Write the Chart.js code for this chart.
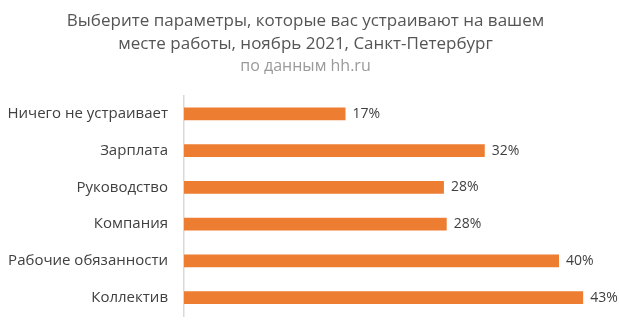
<!DOCTYPE html>
<html>
<head>
<meta charset="utf-8">
<script src="https://cdn.jsdelivr.net/npm/chart.js@4"></script>
<style>
    html, body { margin: 0; padding: 0; background: #fff; }
    #wrap { width: 619px; height: 331px; }
</style>
</head>
<body>
<div id="wrap"><canvas id="chart"></canvas></div>
<script>
const categories = [
    "Ничего не устраивает",
    "Зарплата",
    "Руководство",
    "Компания",
    "Рабочие обязанности",
    "Коллектив"
];
const values = [17.4, 32.4, 28.0, 28.3, 40.4, 43.0];
const valueLabels = ["17%", "32%", "28%", "28%", "40%", "43%"];

const titleLines = [
    "Выберите параметры, которые вас устраивают на вашем",
    "месте работы, ноябрь 2021, Санкт-Петербург"
];
const subtitleText = "по данным hh.ru";

const fontFamily = "'Open Sans', sans-serif";
const textColor = "#404040";

// draws the % labels right after each bar
const valueLabelPlugin = {
    id: "valueLabels",
    afterDatasetsDraw(chart) {
        const ctx = chart.ctx;
        const meta = chart.getDatasetMeta(0);
        ctx.save();
        ctx.font = `14px ${fontFamily}`;
        ctx.fillStyle = textColor;
        ctx.textAlign = "left";
        ctx.textBaseline = "middle";
        meta.data.forEach((bar, i) => {
            ctx.fillText(valueLabels[i], bar.x + 7, bar.y);
        });
        ctx.restore();
    }
};

new Chart(document.getElementById("chart"), {
    type: "bar",
    data: {
        labels: categories,
        datasets: [
            {
                data: values,
                backgroundColor: "#ED7D31",
                borderWidth: 0,
                categoryPercentage: 1,
                barPercentage: 0.345
            }
        ]
    },
    options: {
        indexAxis: "y",
        responsive: true,
        maintainAspectRatio: false,
        animation: false,
        layout: {
            padding: { left: 0, right: 8, top: 0, bottom: 15 }
        },
        plugins: {
            legend: { display: false },
            tooltip: { enabled: false },
            title: {
                display: true,
                text: titleLines,
                color: "#555555",
                font: { family: fontFamily, size: 17, weight: "normal", lineHeight: 1.35 },
                padding: { top: 10, bottom: 0 }
            },
            subtitle: {
                display: true,
                text: subtitleText,
                color: "#9a9a9a",
                font: { family: fontFamily, size: 16, weight: "normal", lineHeight: 1.35 },
                padding: { top: 0, bottom: 18 }
            }
        },
        scales: {
            x: {
                display: false,
                min: 0,
                max: 46
            },
            y: {
                afterFit: (scale) => {
                    scale.width = 184;
                    scale.paddingTop = 0;
                    scale.paddingBottom = 0;
                },
                grid: { display: false, drawTicks: false },
                border: { display: true, color: "#d9d9d9", width: 1.5 },
                ticks: {
                    color: textColor,
                    padding: 16,
                    font: { family: fontFamily, size: 15 }
                }
            }
        }
    },
    plugins: [valueLabelPlugin]
});
</script>
</body>
</html>
